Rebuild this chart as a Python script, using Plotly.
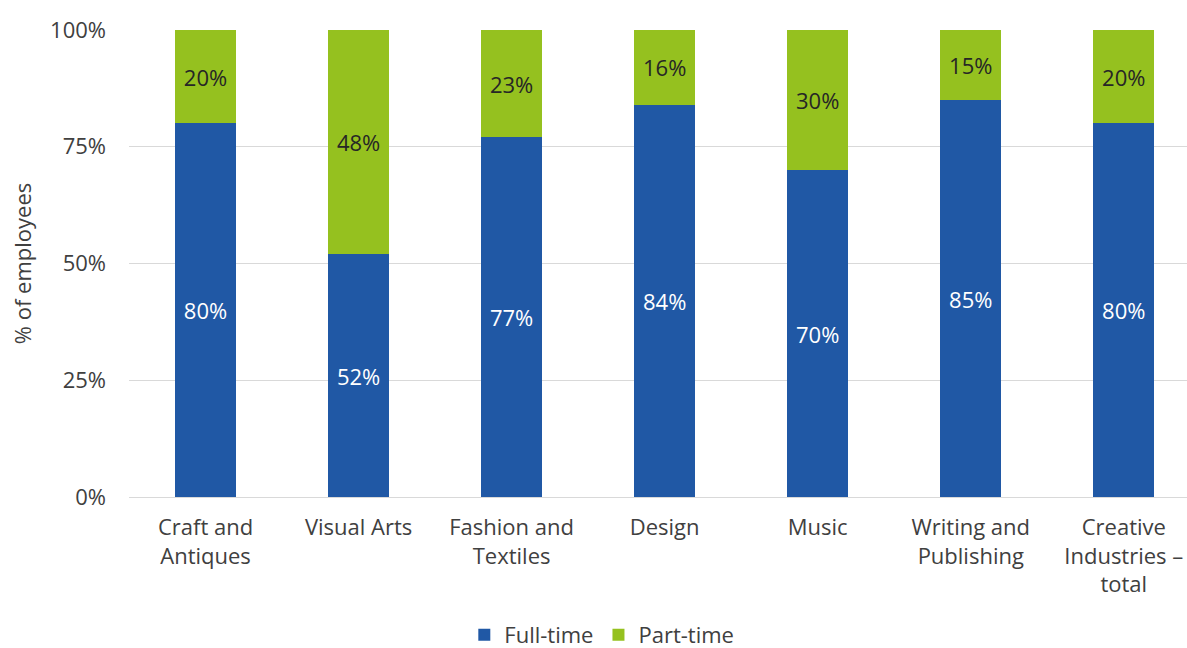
import plotly.graph_objects as go

# Employment type by creative industry sector (% of employees)
categories = [
    "Craft and<br>Antiques",
    "Visual Arts",
    "Fashion and<br>Textiles",
    "Design",
    "Music",
    "Writing and<br>Publishing",
    "Creative<br>Industries –<br>total",
]
full_time = [80, 52, 77, 84, 70, 85, 80]
part_time = [20, 48, 23, 16, 30, 15, 20]
y_ticks = [0, 25, 50, 75, 100]
y_tick_labels = [f"{v}%" for v in y_ticks]

BLUE = "#2058A5"
GREEN = "#95C11F"
FONT = "Open Sans"
TEXT = "#404040"
SIZE = 22

fig = go.Figure()
fig.add_trace(go.Bar(
    x=categories, y=full_time, name="Full-time",
    marker=dict(color=BLUE, line=dict(width=0)),
    text=[f"{v}%" for v in full_time], textposition="inside",
    insidetextanchor="middle",
    textfont=dict(color="white", size=SIZE, family=FONT),
))
fig.add_trace(go.Bar(
    x=categories, y=part_time, name="Part-time",
    marker=dict(color=GREEN, line=dict(width=0)),
    text=[f"{v}%" for v in part_time], textposition="inside",
    insidetextanchor="middle",
    textfont=dict(color="#262626", size=SIZE, family=FONT),
))

fig.update_layout(
    barmode="stack",
    bargap=0.6,
    width=1187, height=648,
    margin=dict(l=129, r=0, t=30, b=151),
    paper_bgcolor="white", plot_bgcolor="white",
    font=dict(family=FONT, size=SIZE, color=TEXT),
    legend=dict(
        orientation="h", xref="container", yref="container",
        x=0.507, y=0.02, xanchor="center", yanchor="middle",
        font=dict(size=SIZE, color=TEXT), traceorder="normal",
        itemwidth=30,
    ),
    xaxis=dict(
        range=[-0.5, 6.413], showgrid=False, showline=False,
        zeroline=False, ticks="", ticklabelstandoff=15,
        tickfont=dict(size=SIZE, color=TEXT),
    ),
    yaxis=dict(
        range=[0, 100], tickmode="array", tickvals=y_ticks,
        ticktext=y_tick_labels,
        showgrid=True, gridcolor="#d9d9d9", gridwidth=1.3,
        zeroline=True, zerolinecolor="#d9d9d9", zerolinewidth=1.3,
        showline=False, ticks="", ticklabelstandoff=22,
        tickfont=dict(size=SIZE, color=TEXT),
        title=dict(text="% of employees", font=dict(size=SIZE, color=TEXT),
                   standoff=12),
    ),
)

fig.write_html("out.html")
